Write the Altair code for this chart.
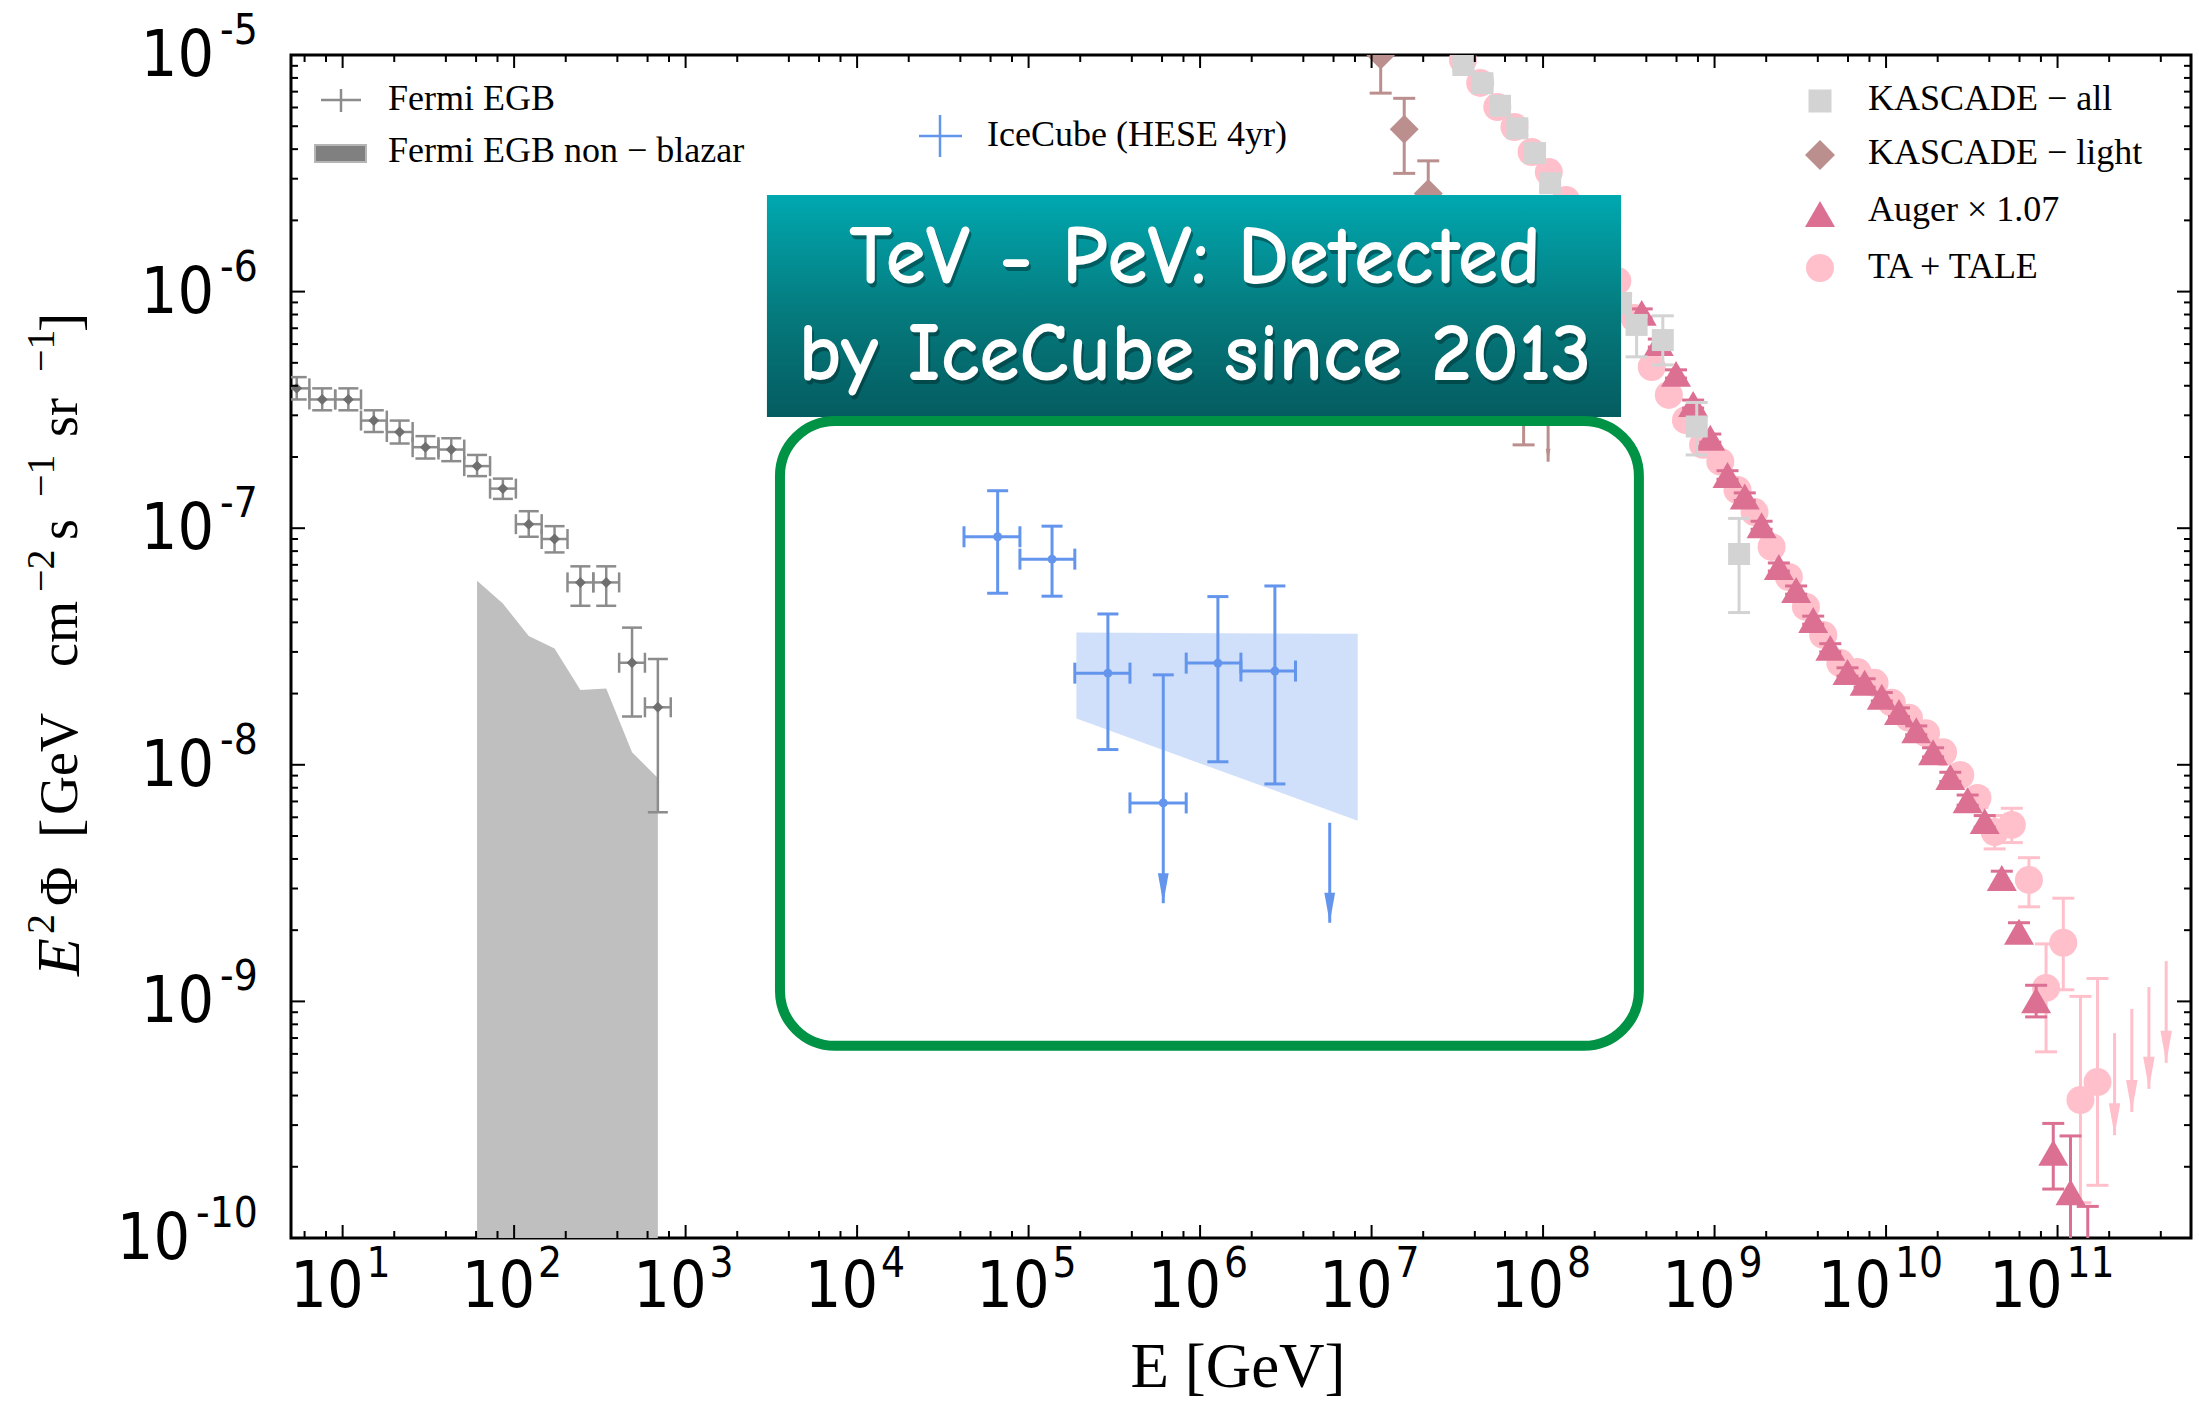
import altair as alt
import pandas as pd

# ---------------- data ----------------
# Fermi EGB (GeV, GeV cm^-2 s^-1 sr^-1)
fermi_x = [5.4, 7.6, 10.8, 15.2, 21.5, 30.4, 43.0, 60.8, 86.0, 121.7, 172.1, 243.5, 344.4, 487.1, 688.9]
fermi_xlo = [4.53, 6.4, 9.05, 12.8, 18.1, 25.6, 36.2, 51.2, 72.4, 102.4, 144.8, 204.8, 289.6, 409.6, 579.2]
fermi_xhi = [6.4, 9.05, 12.8, 18.1, 25.6, 36.2, 51.2, 72.4, 102.4, 144.8, 204.8, 289.6, 409.6, 579.2, 819.2]
fermi_y = [3.9e-7, 3.5e-7, 3.5e-7, 2.85e-7, 2.55e-7, 2.2e-7, 2.15e-7, 1.83e-7, 1.47e-7, 1.04e-7, 9.0e-8, 5.9e-8, 5.9e-8, 2.7e-8, 1.75e-8]
fermi_hi = [4.35e-7, 3.9e-7, 3.9e-7, 3.15e-7, 2.85e-7, 2.45e-7, 2.4e-7, 2.04e-7, 1.62e-7, 1.18e-7, 1.02e-7, 6.9e-8, 6.9e-8, 3.8e-8, 2.8e-8]
fermi_lo = [3.5e-7, 3.15e-7, 3.15e-7, 2.55e-7, 2.28e-7, 1.97e-7, 1.92e-7, 1.66e-7, 1.33e-7, 9.2e-8, 7.9e-8, 4.7e-8, 4.7e-8, 1.6e-8, 6.3e-9]

# Fermi EGB non-blazar band (upper edge)
nb_x = [60.8, 86.0, 121.7, 172.1, 243.5, 344.4, 487.1, 688.9]
nb_y = [6.0e-8, 4.8e-8, 3.5e-8, 3.1e-8, 2.07e-8, 2.1e-8, 1.13e-8, 8.8e-9]

# IceCube HESE 4yr
ic_x = [6.6e4, 1.37e5, 2.9e5, 6.1e5, 1.27e6, 2.73e6]
ic_xlo = [4.2e4, 8.9e4, 1.86e5, 3.9e5, 8.3e5, 1.73e6]
ic_xhi = [8.9e4, 1.86e5, 3.9e5, 8.3e5, 1.73e6, 3.6e6]
ic_y = [9.2e-8, 7.4e-8, 2.44e-8, 6.9e-9, 2.69e-8, 2.49e-8]
ic_hi = [1.44e-7, 1.02e-7, 4.34e-8, 2.40e-8, 5.14e-8, 5.7e-8]
ic_lo = [5.31e-8, 5.16e-8, 1.16e-8, None, 1.03e-8, 8.3e-9]
ic_ul_x = [6.1e5, 5.7e6]
ic_ul_top = [6.9e-9, 5.69e-9]
ic_ul_tip = [2.6e-9, 2.15e-9]
# IceCube fit band
band_x = [1.9e5, 8.3e6]
band_hi = [3.62e-8, 3.58e-8]
band_lo = [1.57e-8, 5.8e-9]

# KASCADE - all
ka_x = [3.43e7, 4.43e7, 5.61e7, 7.08e7, 8.98e7, 1.10e8, 1.40e8, 1.78e8, 2.25e8, 2.85e8, 3.51e8, 4.99e8, 7.87e8, 1.39e9]
ka_y = [9.07e-6, 7.6e-6, 6.1e-6, 4.9e-6, 3.85e-6, 2.87e-6, 2.25e-6, 1.7e-6, 1.25e-6, 8.95e-7, 7.23e-7, 6.24e-7, 2.69e-7, 7.78e-8]
ka_hi = [9.6e-6, 8.05e-6, 6.45e-6, 5.2e-6, 4.1e-6, 3.05e-6, 2.4e-6, 1.82e-6, 1.35e-6, 9.8e-7, 7.85e-7, 7.9e-7, 3.4e-7, 1.1e-7]
ka_lo = [8.55e-6, 7.15e-6, 5.75e-6, 4.6e-6, 3.6e-6, 2.7e-6, 2.1e-6, 1.58e-6, 1.15e-6, 8.1e-7, 5.3e-7, 4.9e-7, 2.04e-7, 4.4e-8]

# KASCADE - light
kl_x = [1.13e7, 1.55e7, 2.14e7, 2.94e7, 4.05e7, 5.58e7, 7.7e7]
kl_y = [1.0e-5, 4.85e-6, 2.6e-6, 1.6e-6, 1.0e-6, 6.3e-7, 4.0e-7]
kl_hi = [1.4e-5, 6.56e-6, 3.57e-6, 2.2e-6, 1.4e-6, 9e-7, 6e-7]
kl_lo = [6.9e-6, 3.16e-6, 1.8e-6, 1.1e-6, 6.5e-7, 3.8e-7, 2.25e-7]
kl_ul_x = [1.07e8]
kl_ul_top = [4.5e-7]
kl_ul_tip = [1.91e-7]

# Auger x 1.07
au_x = [3.76e8, 4.73e8, 5.96e8, 7.50e8, 9.44e8, 1.19e9, 1.50e9, 1.88e9, 2.37e9, 2.99e9, 3.76e9, 4.73e9,
        5.96e9, 7.50e9, 9.44e9, 1.19e10, 1.50e10, 1.88e10, 2.37e10, 2.99e10, 3.76e10, 4.73e10, 5.96e10,
        7.50e10, 9.44e10, 1.19e11, 1.50e11]
au_y = [8.13e-7, 6.07e-7, 4.49e-7, 3.35e-7, 2.41e-7, 1.68e-7, 1.36e-7, 1.03e-7, 6.86e-8, 5.48e-8, 4.09e-8,
        3.12e-8, 2.47e-8, 2.22e-8, 1.94e-8, 1.67e-8, 1.40e-8, 1.13e-8, 8.88e-9, 7.09e-9, 5.78e-9, 3.32e-9,
        1.97e-9, 1.01e-9, 2.29e-10, 1.56e-10, 6e-11]
au_hi = [8.45e-7, 6.3e-7, 4.67e-7, 3.48e-7, 2.5e-7, 1.75e-7, 1.41e-7, 1.07e-7, 7.13e-8, 5.7e-8, 4.25e-8,
         3.25e-8, 2.57e-8, 2.31e-8, 2.02e-8, 1.74e-8, 1.46e-8, 1.18e-8, 9.3e-9, 7.45e-9, 6.1e-9, 3.55e-9,
         2.15e-9, 1.17e-9, 3.05e-10, 2.7e-10, 1.36e-10]
au_lo = [7.8e-7, 5.83e-7, 4.31e-7, 3.22e-7, 2.31e-7, 1.61e-7, 1.31e-7, 9.9e-8, 6.59e-8, 5.26e-8, 3.93e-8,
         3.0e-8, 2.37e-8, 2.13e-8, 1.86e-8, 1.6e-8, 1.34e-8, 1.08e-8, 8.5e-9, 6.75e-9, 5.45e-9, 3.1e-9,
         1.8e-9, 8.6e-10, 1.61e-10, 5e-11, 3e-11]

# TA + TALE
ta_x = [3.41e7, 4.30e7, 5.41e7, 6.81e7, 8.57e7, 1.08e8, 1.36e8, 1.71e8, 2.15e8, 2.71e8, 3.41e8, 4.30e8,
        5.41e8, 6.81e8, 8.57e8, 1.08e9, 1.36e9, 1.71e9, 2.15e9, 2.71e9, 3.41e9, 4.30e9, 5.41e9, 6.81e9,
        8.57e9, 1.08e10, 1.36e10, 1.71e10, 2.15e10, 2.71e10, 3.41e10, 4.30e10, 5.41e10, 6.81e10, 8.57e10,
        1.08e11, 1.36e11, 1.71e11]
ta_y = [9.53e-6, 7.62e-6, 6.03e-6, 4.96e-6, 3.89e-6, 3.20e-6, 2.44e-6, 1.91e-6, 1.50e-6, 1.11e-6, 7.73e-7,
        4.80e-7, 3.66e-7, 2.86e-7, 2.25e-7, 1.91e-7, 1.45e-7, 1.17e-7, 8.33e-8, 6.22e-8, 4.65e-8, 3.54e-8,
        2.69e-8, 2.47e-8, 2.22e-8, 1.83e-8, 1.58e-8, 1.36e-8, 1.13e-8, 9.05e-9, 7.24e-9, 5.20e-9, 5.57e-9,
        3.26e-9, 1.14e-9, 1.77e-9, 3.83e-10, 4.56e-10]
ta_hi = [9.9e-6, 7.92e-6, 6.27e-6, 5.16e-6, 4.05e-6, 3.33e-6, 2.54e-6, 1.99e-6, 1.56e-6, 1.15e-6, 8.05e-7,
         5.0e-7, 3.81e-7, 2.98e-7, 2.34e-7, 1.99e-7, 1.51e-7, 1.22e-7, 8.7e-8, 6.5e-8, 4.85e-8, 3.7e-8,
         2.82e-8, 2.6e-8, 2.34e-8, 1.93e-8, 1.67e-8, 1.44e-8, 1.2e-8, 9.7e-9, 7.85e-9, 6.1e-9, 6.55e-9,
         4.05e-9, 1.75e-9, 2.73e-9, 1.05e-9, 1.25e-9]
ta_lo = [9.15e-6, 7.32e-6, 5.79e-6, 4.76e-6, 3.73e-6, 3.07e-6, 2.34e-6, 1.83e-6, 1.44e-6, 1.07e-6, 7.42e-7,
         4.6e-7, 3.51e-7, 2.74e-7, 2.16e-7, 1.83e-7, 1.39e-7, 1.12e-7, 7.95e-8, 5.95e-8, 4.45e-8, 3.38e-8,
         2.56e-8, 2.34e-8, 2.1e-8, 1.73e-8, 1.49e-8, 1.28e-8, 1.06e-8, 8.4e-9, 6.6e-9, 4.41e-9, 4.69e-9,
         2.51e-9, 6.12e-10, 1.12e-9, 1.41e-10, 1.67e-10]
ta_ul_x = [2.15e11, 2.71e11, 3.41e11, 4.30e11]
ta_ul_top = [7.34e-10, 9.29e-10, 1.15e-9, 1.48e-9]
ta_ul_tip = [2.72e-10, 3.41e-10, 4.27e-10, 5.50e-10]

# annotation boxes (data units)
box_x = [2.98e3, 2.85e8]
box_y = [2.56e-6, 2.95e-7]
box_text = ["TeV - PeV: Detected", "by IceCube since 2013"]
box_text_x = [9.34e5, 9.34e5]
box_text_y = [1.087e-6, 4.23e-7]
ring_x = [3.55e3, 3.62e8]
ring_y = [2.84e-7, 6.49e-10]

# axis ticks / labels
x_major = [1e1, 1e2, 1e3, 1e4, 1e5, 1e6, 1e7, 1e8, 1e9, 1e10, 1e11]
x_exp = ["1", "2", "3", "4", "5", "6", "7", "8", "9", "10", "11"]
x_minor = [m * 10.0 ** e for e in range(0, 12) for m in (2, 4, 6, 8) if 5 <= m * 10.0 ** e <= 6e11]
y_major = [1e-5, 1e-6, 1e-7, 1e-8, 1e-9, 1e-10]
y_exp = ["-5", "-6", "-7", "-8", "-9", "-10"]
y_minor = [m * 10.0 ** e for e in range(-10, -5) for m in range(2, 10)]

# ---------------- layout constants ----------------
W, H = 1900, 1183
L0, T0 = 291, 55
SANS = "DejaVu Sans Condensed, DejaVu Sans"
SERIF = "Liberation Serif, DejaVu Serif, serif"
CARTOON = "Comic Sans MS, Comic Neue, DejaVu Sans"

XS = alt.Scale(type="log", domain=[5, 6e11], nice=False)
YS = alt.Scale(type="log", domain=[1e-10, 1e-5], nice=False)


def ex(f):
    return alt.X(f + ":Q", scale=XS, axis=None)


def ey(f):
    return alt.Y(f + ":Q", scale=YS, axis=None)


HCAP = "M -1 0 L 1 0"
VCAP = "M 0 -1 L 0 1"
ARROW = "M -0.18 -1 L 0.18 -1 L 0 0 Z"


def errorbars(x, y, lo, hi, color, sw, cap, xlo=None, xhi=None, xcap=None):
    out = []
    df = pd.DataFrame(dict(x=x, lo=[c if c is not None else b for b, c in zip(y, lo)], hi=hi))
    out.append(alt.Chart(df).mark_rule(color=color, strokeWidth=sw, clip=True).encode(
        x=ex("x"), y=ey("lo"), y2=alt.Y2("hi:Q")))
    caps = [dict(x=a, v=d) for a, d in zip(x, hi)] + [dict(x=a, v=c) for a, c in zip(x, lo) if c is not None]
    out.append(alt.Chart(pd.DataFrame(caps)).mark_point(
        shape=HCAP, size=cap * cap, color=color, strokeWidth=sw, filled=False, opacity=1, clip=True).encode(
        x=ex("x"), y=ey("v")))
    if xlo is not None:
        dfx = pd.DataFrame(dict(y=y, xlo=xlo, xhi=xhi))
        out.append(alt.Chart(dfx).mark_rule(color=color, strokeWidth=sw, clip=True).encode(
            x=ex("xlo"), x2=alt.X2("xhi:Q"), y=ey("y")))
        xc = [dict(u=a, y=b) for a, b in zip(xlo, y)] + [dict(u=a, y=b) for a, b in zip(xhi, y)]
        out.append(alt.Chart(pd.DataFrame(xc)).mark_point(
            shape=VCAP, size=xcap * xcap, color=color, strokeWidth=sw, filled=False, opacity=1, clip=True).encode(
            x=ex("u"), y=ey("y")))
    return out


def points(x, y, color, shape, size):
    return alt.Chart(pd.DataFrame(dict(x=x, y=y))).mark_point(
        shape=shape, size=size, color=color, filled=True, opacity=1, clip=True).encode(x=ex("x"), y=ey("y"))


def arrows(x, top, tip, color, sw, head):
    df = pd.DataFrame(dict(x=x, top=top, tip=tip))
    return [
        alt.Chart(df).mark_rule(color=color, strokeWidth=sw, clip=True).encode(
            x=ex("x"), y=ey("tip"), y2=alt.Y2("top:Q")),
        alt.Chart(df).mark_point(shape=ARROW, size=4 * head * head, color=color, filled=True,
                                 opacity=1, clip=True).encode(x=ex("x"), y=ey("tip")),
    ]


layers = []

# Fermi non-blazar band
layers.append(alt.Chart(pd.DataFrame(dict(x=nb_x, y=nb_y, b=[1e-10] * len(nb_x)))).mark_area(
    color="#BFBFBF", opacity=1, clip=True).encode(x=ex("x"), y=ey("y"), y2=alt.Y2("b:Q")))
# IceCube band
layers.append(alt.Chart(pd.DataFrame(dict(x=band_x, hi=band_hi, lo=band_lo))).mark_area(
    color="#6495ED", opacity=0.3, clip=True).encode(x=ex("x"), y=ey("lo"), y2=alt.Y2("hi:Q")))

# Fermi EGB
layers += errorbars(fermi_x, fermi_y, fermi_lo, fermi_hi, "#8C8C8C", 2.5, 20, fermi_xlo, fermi_xhi, 20)
layers.append(points(fermi_x, fermi_y, "#6F6F6F", "diamond", 120))

# IceCube
layers += errorbars(ic_x, ic_y, ic_lo, ic_hi, "#6495ED", 3, 21, ic_xlo, ic_xhi, 21)
layers += arrows(ic_ul_x, ic_ul_top, ic_ul_tip, "#6495ED", 3, 30)
layers.append(points(ic_x, ic_y, "#6495ED", "circle", 80))

# TA + TALE
layers += errorbars(ta_x, ta_y, ta_lo, ta_hi, "#FFC0CB", 3, 22)
layers += arrows(ta_ul_x, ta_ul_top, ta_ul_tip, "#FFC0CB", 3, 32)
layers.append(points(ta_x, ta_y, "#FFC0CB", "circle", 784))

# Auger
layers += errorbars(au_x, au_y, au_lo, au_hi, "#DB7093", 3, 22)
layers.append(points(au_x, au_y, "#DB7093", "triangle-up", 900))

# KASCADE all
layers += errorbars(ka_x, ka_y, ka_lo, ka_hi, "#D3D3D3", 3, 22)
layers.append(points(ka_x, ka_y, "#D3D3D3", "square", 484))

# KASCADE light
layers += errorbars(kl_x, kl_y, kl_lo, kl_hi, "#BC8F8F", 3, 22)
layers += arrows(kl_ul_x, kl_ul_top, kl_ul_tip, "#BC8F8F", 3, 13)
layers.append(points(kl_x, kl_y, "#BC8F8F", "diamond", 840))

# teal box with text
box_df = pd.DataFrame(dict(x1=[box_x[0]], x2=[box_x[1]], y1=[box_y[0]], y2=[box_y[1]]))
grad = alt.Gradient(gradient="linear",
                    stops=[alt.GradientStop(color="#00A8B0", offset=0),
                           alt.GradientStop(color="#05797C", offset=0.55),
                           alt.GradientStop(color="#045C60", offset=1)],
                    x1=0, x2=0, y1=0, y2=1)
layers.append(alt.Chart(box_df).mark_rect(color=grad, opacity=1).encode(
    x=ex("x1"), x2=alt.X2("x2:Q"), y=ey("y1"), y2=alt.Y2("y2:Q")))
tdf = pd.DataFrame(dict(x=box_text_x, y=box_text_y, t=box_text))
layers.append(alt.Chart(tdf).mark_text(font=CARTOON, fontSize=82, fontWeight="bold", color="#012E30",
                                       opacity=0.5, align="center", baseline="alphabetic", dx=2, dy=4).encode(
    x=ex("x"), y=ey("y"), text="t:N"))
layers.append(alt.Chart(tdf).mark_text(font=CARTOON, fontSize=82, fontWeight="bold", color="white",
                                       align="center", baseline="alphabetic").encode(
    x=ex("x"), y=ey("y"), text="t:N"))

# green rounded ring
ring_df = pd.DataFrame(dict(x1=[ring_x[0]], x2=[ring_x[1]], y1=[ring_y[0]], y2=[ring_y[1]]))
layers.append(alt.Chart(ring_df).mark_rect(filled=False, color="#009245", strokeWidth=10,
                                           cornerRadius=55, opacity=1).encode(
    x=ex("x1"), x2=alt.X2("x2:Q"), y=ey("y1"), y2=alt.Y2("y2:Q")))


# ticks (inward on all four sides)
def xticks(vals, L):
    d = pd.DataFrame(dict(v=vals))
    return [
        alt.Chart(d).mark_point(shape="M 0 0 L 0 -1", size=4 * L * L, color="black", strokeWidth=2,
                                filled=False, opacity=1).encode(x=ex("v"), y=alt.value(H)),
        alt.Chart(d).mark_point(shape="M 0 0 L 0 1", size=4 * L * L, color="black", strokeWidth=2,
                                filled=False, opacity=1).encode(x=ex("v"), y=alt.value(0)),
    ]


def yticks(vals, L):
    d = pd.DataFrame(dict(v=vals))
    return [
        alt.Chart(d).mark_point(shape="M 0 0 L 1 0", size=4 * L * L, color="black", strokeWidth=2,
                                filled=False, opacity=1).encode(y=ey("v"), x=alt.value(0)),
        alt.Chart(d).mark_point(shape="M 0 0 L -1 0", size=4 * L * L, color="black", strokeWidth=2,
                                filled=False, opacity=1).encode(y=ey("v"), x=alt.value(W)),
    ]


layers += xticks(x_major, 13) + xticks(x_minor, 7) + yticks(y_major, 14) + yticks(y_minor, 7)

# x tick labels: "10" + superscript exponent
xl = pd.DataFrame(dict(v=x_major, e=x_exp))
xl1 = xl[xl.e.str.len() == 1]
xl2 = xl[xl.e.str.len() == 2]
for sub, dxb, dxs in ((xl1, 21, 24), (xl2, 5, 9)):
    layers.append(alt.Chart(sub).mark_text(text="10", font=SANS, fontSize=64, align="right",
                                           baseline="alphabetic", dx=dxb, color="black").encode(
        x=ex("v"), y=alt.value(1307 - T0)))
    layers.append(alt.Chart(sub).mark_text(font=SANS, fontSize=42, align="left",
                                           baseline="alphabetic", dx=dxs, color="black").encode(
        x=ex("v"), y=alt.value(1277 - T0), text="e:N"))

# y tick labels
yl = pd.DataFrame(dict(v=y_major, e=y_exp))
yl2 = yl[yl.e.str.len() == 2]
yl3 = yl[yl.e.str.len() == 3]
for sub, xb in ((yl2, 214), (yl3, 190)):
    layers.append(alt.Chart(sub).mark_text(text="10", font=SANS, fontSize=64, align="right",
                                           baseline="alphabetic", dy=21, color="black").encode(
        y=ey("v"), x=alt.value(xb - L0)))
    layers.append(alt.Chart(sub).mark_text(font=SANS, fontSize=42, align="left", baseline="alphabetic",
                                           dy=-11, color="black").encode(
        y=ey("v"), x=alt.value(xb + 6 - L0), text="e:N"))

# axis titles
layers.append(alt.Chart(pd.DataFrame(dict(a=[0]))).mark_text(
    text="E [GeV]", font=SERIF, fontSize=63, align="center", baseline="alphabetic", color="black").encode(
    x=alt.value(1238 - L0), y=alt.value(1387 - T0)))

ytitle = [("E", 62, "italic", 976, 79), ("2", 40, "normal", 934, 54), ("Φ", 54, "normal", 906, 77),
          ("[", 58, "normal", 838, 79), ("GeV", 54, "normal", 815, 77), ("cm", 54, "normal", 667, 77),
          ("−2", 40, "normal", 592, 54), ("s", 54, "normal", 540, 77), ("−1", 40, "normal", 497, 54),
          ("sr", 54, "normal", 437, 77), ("−1", 40, "normal", 372, 54), ("]", 58, "normal", 332, 79)]
for txt, fs, st, ys, xb in ytitle:
    layers.append(alt.Chart(pd.DataFrame(dict(a=[0]))).mark_text(
        text=txt, font=SERIF, fontSize=fs, fontStyle=st, angle=270, align="left",
        baseline="alphabetic", color="black").encode(x=alt.value(xb - L0), y=alt.value(ys - T0)))

# ---------------- legends ----------------
one = pd.DataFrame(dict(a=[0]))


def ltext(t, x, y):
    return alt.Chart(one).mark_text(text=t, font=SERIF, fontSize=36, align="left",
                                    baseline="alphabetic", color="black").encode(
        x=alt.value(x - L0), y=alt.value(y - T0))


def lrule(x1, y1, x2, y2, color, sw):
    return alt.Chart(one).mark_rule(color=color, strokeWidth=sw).encode(
        x=alt.value(x1 - L0), x2=alt.value(x2 - L0), y=alt.value(y1 - T0), y2=alt.value(y2 - T0))


def lmark(x, y, color, shape, size):
    return alt.Chart(one).mark_point(shape=shape, size=size, color=color, filled=True, opacity=1).encode(
        x=alt.value(x - L0), y=alt.value(y - T0))


layers += [
    lrule(321, 100, 361, 100, "#8C8C8C", 2.5), lrule(341, 89, 341, 112, "#8C8C8C", 2.5),
    ltext("Fermi EGB", 388, 110),
    alt.Chart(one).mark_rect(color="#808080", stroke="#B5B5B5", strokeWidth=2).encode(
        x=alt.value(315 - L0), x2=alt.value(366 - L0), y=alt.value(145 - T0), y2=alt.value(162 - T0)),
    ltext("Fermi EGB non − blazar", 388, 162),
    lrule(919, 136, 962, 136, "#6495ED", 2.5), lrule(940, 115, 940, 157, "#6495ED", 2.5),
    ltext("IceCube (HESE 4yr)", 987, 146),
    lmark(1820, 101, "#D3D3D3", "square", 529), ltext("KASCADE − all", 1868, 110),
    lmark(1820, 155, "#BC8F8F", "diamond", 900), ltext("KASCADE − light", 1868, 164),
    lmark(1820, 214, "#DB7093", "triangle-up", 900), ltext("Auger × 1.07", 1868, 221),
    lmark(1820, 268, "#FFC0CB", "circle", 784), ltext("TA + TALE", 1868, 278),
]

chart = alt.layer(*layers).properties(
    width=W, height=H,
    autosize=alt.AutoSizeParams(type="none"),
    padding={"left": L0, "top": T0, "right": 2199 - L0 - W, "bottom": 1404 - T0 - H},
    background="white",
).configure_view(stroke="black", strokeWidth=3)

chart.save("out.html", embed_options={"renderer": "svg", "actions": False})
